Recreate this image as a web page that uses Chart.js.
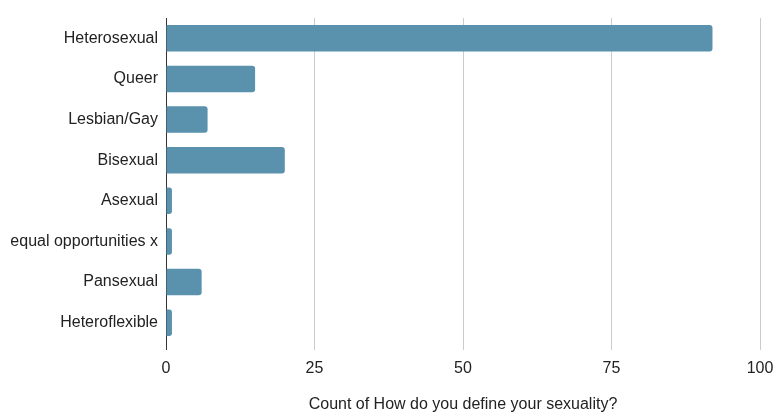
<!DOCTYPE html>
<html>
<head>
<meta charset="utf-8">
<script src="https://cdn.jsdelivr.net/npm/chart.js@4"></script>
<style>
  html, body { margin: 0; padding: 0; background: #fff; }
  #wrap { width: 775px; height: 413px; }
</style>
</head>
<body>
<div id="wrap"><canvas id="chart"></canvas></div>
<script>
const categories = ["Heterosexual", "Queer", "Lesbian/Gay", "Bisexual", "Asexual", "equal opportunities x", "Pansexual", "Heteroflexible"];
const counts = [92, 15, 7, 20, 1, 1, 6, 1];
const xTicks = [0, 25, 50, 75, 100];

const font = "'Liberation Sans', Arial, Helvetica, sans-serif";

new Chart(document.getElementById("chart"), {
  type: "bar",
  data: {
    labels: categories,
    datasets: [
      {
        label: "Count",
        data: counts,
        backgroundColor: "#5a91ad",
        borderRadius: 3,
        borderSkipped: "start",
        barPercentage: 0.65,
        categoryPercentage: 1
      }
    ]
  },
  options: {
    indexAxis: "y",
    responsive: true,
    maintainAspectRatio: false,
    animation: false,
    layout: { padding: { top: 18, right: 15, left: 0, bottom: 0 } },
    plugins: {
      legend: { display: false },
      tooltip: { enabled: false }
    },
    scales: {
      x: {
        min: 0,
        max: 100,
        afterBuildTicks: (axis) => {
          axis.ticks = xTicks.map((v) => ({ value: v }));
        },
        afterFit: (axis) => {
          axis.height = 70;
          axis.paddingLeft = 0;
          axis.paddingRight = 0;
        },
        border: { display: false },
        grid: {
          color: (ctx) => (ctx.tick && ctx.tick.value === 0 ? "#333" : "#cccccc"),
          lineWidth: 1,
          tickLength: 7
        },
        ticks: {
          color: "#222",
          font: { family: font, size: 16 },
          padding: 9
        },
        title: {
          display: true,
          text: "Count of How do you define your sexuality?",
          color: "#222",
          font: { family: font, size: 16, lineHeight: 1 },
          padding: { top: 0, bottom: 0 }
        }
      },
      y: {
        afterFit: (axis) => {
          axis.width = 166;
        },
        border: { display: false },
        grid: { display: false, drawTicks: false },
        ticks: {
          color: "#222",
          font: { family: font, size: 16 },
          padding: 8
        }
      }
    }
  }
});
</script>
</body>
</html>
